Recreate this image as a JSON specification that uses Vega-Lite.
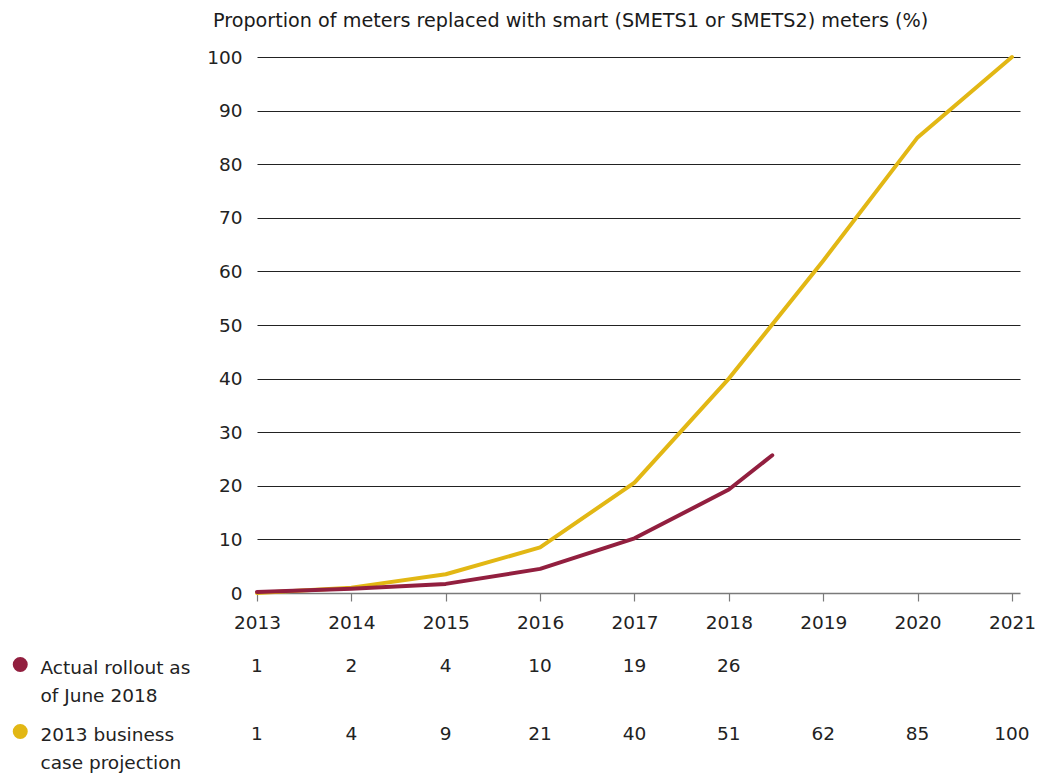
{
  "$schema": "https://vega.github.io/schema/vega-lite/v6.json",
  "background": "white",
  "padding": {"left": 11, "top": 11, "right": 5, "bottom": 0},
  "config": {
    "view": {"stroke": null},
    "font": "DejaVu Sans",
    "style": {"guide-label": {"lineHeight": 28}}
  },
  "datasets": {
    "lines": [
      {"series": "business", "year": 2013, "value": 0},
      {"series": "business", "year": 2014, "value": 1.0},
      {"series": "business", "year": 2015, "value": 3.5},
      {"series": "business", "year": 2016, "value": 8.5},
      {"series": "business", "year": 2017, "value": 20.6},
      {"series": "business", "year": 2018, "value": 40},
      {"series": "business", "year": 2019, "value": 62},
      {"series": "business", "year": 2020, "value": 85},
      {"series": "business", "year": 2021, "value": 100},
      {"series": "actual", "year": 2013, "value": 0.2},
      {"series": "actual", "year": 2014, "value": 0.8},
      {"series": "actual", "year": 2015, "value": 1.7},
      {"series": "actual", "year": 2016, "value": 4.5},
      {"series": "actual", "year": 2017, "value": 10.2},
      {"series": "actual", "year": 2018, "value": 19.3},
      {"series": "actual", "year": 2018.46, "value": 25.7}
    ],
    "table": [
      {"series": "actual", "year": 2013, "value": 1},
      {"series": "actual", "year": 2014, "value": 2},
      {"series": "actual", "year": 2015, "value": 4},
      {"series": "actual", "year": 2016, "value": 10},
      {"series": "actual", "year": 2017, "value": 19},
      {"series": "actual", "year": 2018, "value": 26},
      {"series": "business", "year": 2013, "value": 1},
      {"series": "business", "year": 2014, "value": 4},
      {"series": "business", "year": 2015, "value": 9},
      {"series": "business", "year": 2016, "value": 21},
      {"series": "business", "year": 2017, "value": 40},
      {"series": "business", "year": 2018, "value": 51},
      {"series": "business", "year": 2019, "value": 62},
      {"series": "business", "year": 2020, "value": 85},
      {"series": "business", "year": 2021, "value": 100}
    ]
  },
  "bounds": "flush",
  "spacing": 45,
  "resolve": {"legend": {"color": "independent"}},
  "vconcat": [
    {
      "width": 763,
      "height": 536,
      "title": {
        "text": "Proportion of meters replaced with smart (SMETS1 or SMETS2) meters (%)",
        "anchor": "start",
        "frame": "group",
        "dx": -44,
        "fontSize": 19.2,
        "fontWeight": "normal",
        "font": "DejaVu Sans",
        "color": "#1a1a1a",
        "baseline": "alphabetic",
        "offset": 2
      },
      "data": {"name": "lines"},
      "mark": {"type": "line", "strokeWidth": 4, "strokeCap": "round", "strokeJoin": "round"},
      "encoding": {
        "x": {
          "field": "year",
          "type": "quantitative",
          "scale": {"domain": [2013, 2021.085], "nice": false, "zero": false},
          "axis": {
            "values": [2013, 2014, 2015, 2016, 2017, 2018, 2019, 2020, 2021],
            "format": "d",
            "title": null,
            "grid": false,
            "labelFlush": false,
            "domainColor": "#7a7a7a",
            "domainWidth": 1.5,
            "tickColor": "#7a7a7a",
            "tickSize": 8,
            "tickWidth": 1.2,
            "labelFontSize": 18.5,
            "labelFont": "DejaVu Sans",
            "labelColor": "#222222",
            "labelPadding": 12
          }
        },
        "y": {
          "field": "value",
          "type": "quantitative",
          "scale": {"domain": [0, 100], "nice": false},
          "axis": {
            "values": [0, 10, 20, 30, 40, 50, 60, 70, 80, 90, 100],
            "title": null,
            "domain": false,
            "ticks": false,
            "labelPadding": 15,
            "labelFontSize": 18.5,
            "labelFont": "DejaVu Sans",
            "labelColor": "#222222",
            "gridColor": "#222222",
            "gridWidth": 1,
            "gridOpacity": {"condition": {"test": "datum.value == 0", "value": 0}, "value": 1}
          }
        },
        "color": {
          "field": "series",
          "type": "nominal",
          "scale": {"domain": ["actual", "business"], "range": ["#921f3f", "#e2b714"]},
          "legend": {
            "orient": "none",
            "legendX": -246,
            "legendY": 593,
            "title": null,
            "padding": 0,
            "symbolType": "M -0.571 1.5 A 0.571 0.571 0 1 0 0.571 1.5 A 0.571 0.571 0 1 0 -0.571 1.5 Z M -1.571 1.5 A 1.571 1.571 0 1 0 1.571 1.5 A 1.571 1.571 0 1 0 -1.571 1.5 Z",
            "symbolSize": 49,
            "symbolStrokeWidth": 4,
            "symbolOpacity": 1,
            "labelFontSize": 18.5,
            "labelFont": "DejaVu Sans",
            "labelColor": "#222222",
            "labelBaseline": "top",
            "labelOffset": 11,
            "labelLimit": 400,
            "rowPadding": 11,
            "labelExpr": "datum.value == 'actual' ? ['Actual rollout as', 'of June 2018'] : ['2013 business', 'case projection']"
          }
        }
      }
    },
    {
      "width": 763,
      "height": 136,
      "data": {"name": "table"},
      "mark": {"type": "text", "fontSize": 18.5, "font": "DejaVu Sans", "color": "#222222", "baseline": "alphabetic"},
      "encoding": {
        "x": {
          "field": "year",
          "type": "quantitative",
          "scale": {"domain": [2013, 2021.085], "nice": false, "zero": false},
          "axis": null
        },
        "y": {
          "field": "series",
          "type": "nominal",
          "scale": {"domain": ["actual", "business"]},
          "axis": null
        },
        "text": {"field": "value", "type": "quantitative", "format": "d"}
      }
    }
  ]
}
